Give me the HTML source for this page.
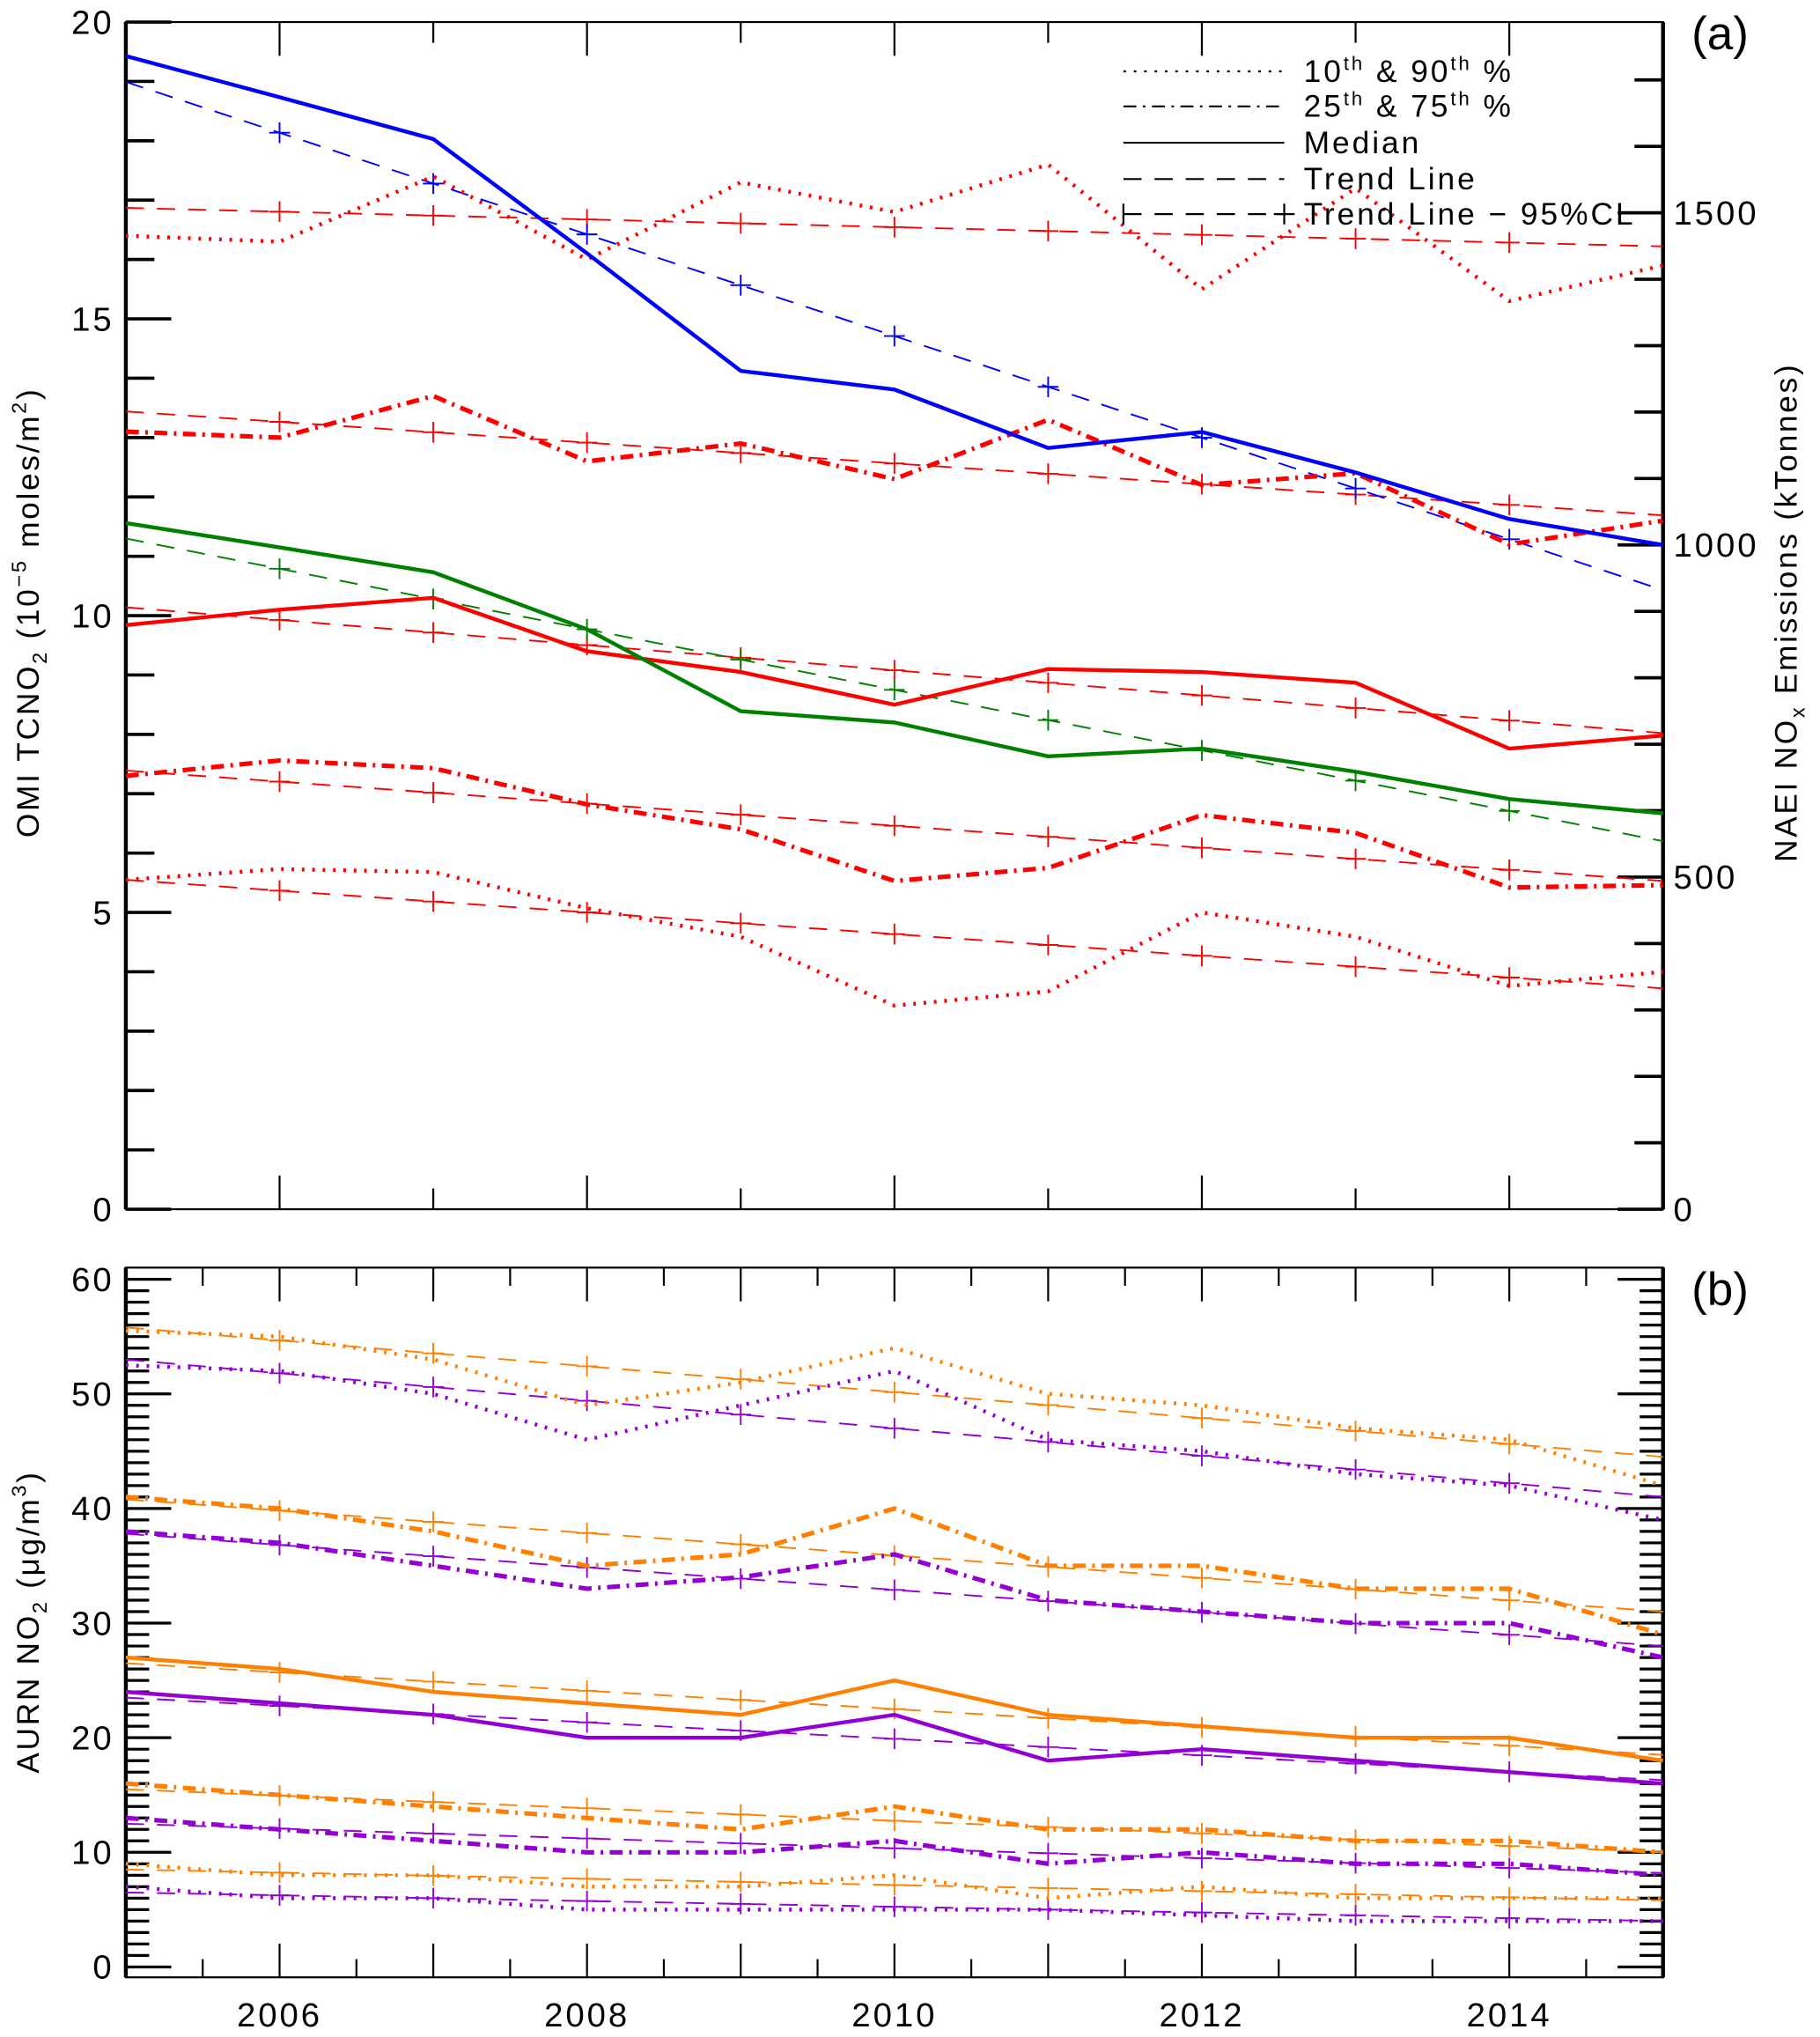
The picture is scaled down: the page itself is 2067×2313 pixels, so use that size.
<!DOCTYPE html>
<html><head><meta charset="utf-8"><style>
html,body{margin:0;padding:0;background:#fff}
svg{display:block}
text{font-family:"Liberation Sans",sans-serif;fill:#000}
</style></head><body>
<svg id="chart" width="2067" height="2313" viewBox="0 0 1403 1570" xmlns="http://www.w3.org/2000/svg"></svg>
<script>
// ---- data ----
const years = [2005,2006,2007,2008,2009,2010,2011,2012,2013,2014,2015];
// panel (a) OMI TCNO2 (1e-5 moles/m2), red
const redP90 = [16.4,16.3,17.4,16.0,17.3,16.8,17.6,15.5,17.2,15.3,15.9];
const redP75 = [13.1,13.0,13.7,12.6,12.9,12.3,13.3,12.2,12.4,11.2,11.6];
const redMed = [9.84,10.1,10.3,9.4,9.05,8.5,9.1,9.05,8.87,7.76,7.98];
const redP25 = [7.3,7.56,7.43,6.82,6.4,5.53,5.75,6.64,6.34,5.42,5.46];
const redP10 = [5.55,5.73,5.68,5.07,4.59,3.43,3.67,5.0,4.59,3.76,4.0];
const redTrendP90 = [16.87,16.22];
const redTrendP75 = [13.44,11.69];
const redTrendMed = [10.14,8.02];
const redTrendP25 = [7.39,5.53];
const redTrendP10 = [5.55,3.72];
// green (left axis)
const greenMed = [11.56,11.15,10.73,9.77,8.39,8.2,7.63,7.76,7.37,6.91,6.67];
const greenTrend = [11.3,6.2];
// blue NAEI emissions (kTonnes, right axis)
const blueEmis = [1736,1674,1611,1439,1262,1234,1146,1170,1109,1039,1000];
const blueTrend = [1697,932];
// panel (b) AURN NO2 (ug/m3)
const orP90 = [55.5,55,53,49,51,54,50,49,47,46,42];
const puP90 = [52.5,52,50,46,49,52,46,45,43,42,39];
const orP75 = [41,40,38,35,36,40,35,35,33,33,29];
const puP75 = [38,37,35,33,34,36,32,31,30,30,27];
const orMed = [27,26,24,23,22,25,22,21,20,20,18];
const puMed = [24,23,22,20,20,22,18,19,18,17,16];
const orP25 = [16,15,14,13,12,14,12,12,11,11,10];
const puP25 = [13,12,11,10,10,11,9,10,9,9,8];
const orP10 = [9,8,8,7,7,8,6,7,6,6,6];
const puP10 = [7,6,6,5,5,5,5,4.5,4,4,4];
const orTrP90=[55.8,44.5], puTrP90=[53,41], orTrP75=[40.8,31], puTrP75=[37.8,28];
const orTrMed=[26.5,18.5], puTrMed=[23.5,16.3], orTrP25=[15.5,10], puTrP25=[12.5,8.2];
const orTrP10=[8.5,5.8], puTrP10=[6.5,4];
const ticksA = [0,5,10,15,20];
const ticksAR = [0,500,1000,1500];
const ticksB = [0,10,20,30,40,50,60];
const xLabels = [2006,2008,2010,2012,2014];

// ---- layout ----
const NS="http://www.w3.org/2000/svg";
const svg=document.getElementById('chart');
const L=97,R=1282;
const x=yr=>L+(yr-2005)*(R-L)/10;
const yA=v=>932-v*45.75;
const yAR=k=>932-k*0.512;
const yB=v=>1516-v*(1516-986)/60;
const RED='#ff0000',BLUE='#0000ff',GREEN='#008000',OR='#ff8000',PU='#9400d3';
const DOT='2,6',DASHDOT='10,5,2,5',DASH='14,10';
function mk(tag,attrs,parent){const e=document.createElementNS(NS,tag);for(const k in attrs)e.setAttribute(k,attrs[k]);(parent||svg).appendChild(e);return e;}
function series(vals,yf,color,dash,w,name){
  const pts=vals.map((v,i)=>x(years[i])+','+yf(v)).join(' ');
  const p=mk('polyline',{points:pts,fill:'none',stroke:color,'stroke-width':w,'stroke-dasharray':dash||'none','stroke-linejoin':'round'});
  
  
}
function trend(ends,yf,color,name){
  const g=mk('g',{});
  
  
  mk('line',{x1:x(2005),y1:yf(ends[0]),x2:x(2015),y2:yf(ends[1]),stroke:color,'stroke-width':1.3,'stroke-dasharray':DASH},g);
  for(let i=1;i<years.length-1;i++){
    const yr=years[i];const v=ends[0]+(ends[1]-ends[0])*i/10;
    const cx=x(yr),cy=yf(v);
    mk('path',{d:`M${cx-8},${cy}H${cx+8}M${cx},${cy-8}V${cy+8}`,stroke:color,'stroke-width':1.3},g);
  }
}
function frame(top,bot,name){
  const r=mk('rect',{x:L,y:top,width:R-L,height:bot-top,fill:'none',stroke:'#000','stroke-width':1.5});
  
  
  mk('line',{x1:L,y1:top,x2:L,y2:bot,stroke:'#000','stroke-width':3});
}
function txt(s,xx,yy,size,anchor,name,extra){
  const t=mk('text',Object.assign({x:xx,y:yy,'font-size':size,'text-anchor':anchor||'middle'},extra||{}));
  t.textContent=s;
  
  
  return t;
}

// ---- panel a ----
frame(17,932,'panel-a-frame');
mk('line',{x1:R,y1:17,x2:R,y2:932,stroke:'#000','stroke-width':3});
for(let v=0;v<=20;v++){const y=yA(v);const big=v%5===0;mk('line',{x1:L,y1:y,x2:L+(big?35:22),y2:y,stroke:'#000','stroke-width':2.5});}
for(let k=0;k<=1700;k+=100){const y=yAR(k);const big=k%500===0;mk('line',{x1:R,y1:y,x2:R-(big?35:22),y2:y,stroke:'#000','stroke-width':2.5});}
for(let yr=2005;yr<=2015;yr++){mk('line',{x1:x(yr),y1:932,x2:x(yr),y2:932-(yr%2===0?26:16),stroke:'#000','stroke-width':1.5});mk('line',{x1:x(yr),y1:17,x2:x(yr),y2:17+(yr%2===0?26:16),stroke:'#000','stroke-width':1.5});}
ticksA.forEach(v=>txt(String(v),88,yA(v)+9,26,'end','y-tick-a-'+v,{'letter-spacing':'2'}));
ticksAR.forEach(k=>txt(String(k),1290,yAR(k)+9,26,'start','y2-tick-a-'+k,{'letter-spacing':'2'}));
txt('(a)',1326,38,36,'middle','panel-a-label');
let t=txt('',30,472,24,'middle','y-axis-title-a',{transform:'rotate(-90 30 472)','letter-spacing':'1.8'});
t.innerHTML='OMI TCNO<tspan font-size="16" dy="6">2</tspan><tspan dy="-6"> (10</tspan><tspan font-size="16" dy="-10">−5</tspan><tspan dy="10"> moles/m</tspan><tspan font-size="16" dy="-10">2</tspan><tspan dy="10">)</tspan>';
t=txt('',1385,472,24,'middle','y2-axis-title-a',{transform:'rotate(-90 1385 472)','letter-spacing':'1.8'});
t.innerHTML='NAEI NO<tspan font-size="16" dy="6">x</tspan><tspan dy="-6"> Emissions (kTonnes)</tspan>';

trend(redTrendP90,yA,RED,'red-p90-trend');
trend(redTrendP75,yA,RED,'red-p75-trend');
trend(redTrendMed,yA,RED,'red-median-trend');
trend(redTrendP25,yA,RED,'red-p25-trend');
trend(redTrendP10,yA,RED,'red-p10-trend');
trend(greenTrend,yA,GREEN,'green-median-trend');
trend(blueTrend,yAR,BLUE,'blue-emissions-trend');
series(redP90,yA,RED,DOT,3,'red-p90-line');
series(redP75,yA,RED,DASHDOT,3.5,'red-p75-line');
series(redMed,yA,RED,null,3,'red-median-line');
series(redP25,yA,RED,DASHDOT,3.5,'red-p25-line');
series(redP10,yA,RED,DOT,3,'red-p10-line');
series(greenMed,yA,GREEN,null,3,'green-median-line');
series(blueEmis,yAR,BLUE,null,3,'blue-emissions-line');

// legend
const leg=mk('g',{});


const legItems=[['DOT','10<tspan font-size="15" dy="-9">th</tspan><tspan dy="9"> &amp; 90</tspan><tspan font-size="15" dy="-9">th</tspan><tspan dy="9"> %</tspan>',DOT,55],
['DD','25<tspan font-size="15" dy="-9">th</tspan><tspan dy="9"> &amp; 75</tspan><tspan font-size="15" dy="-9">th</tspan><tspan dy="9"> %</tspan>',DASHDOT,82],
['S','Median','none',110],['D','Trend Line',DASH,138],['DP','Trend Line − 95%CL',DASH,165]];
legItems.forEach((it,i)=>{
  mk('line',{x1:866,y1:it[3],x2:990,y2:it[3],stroke:'#000','stroke-width':1.5,'stroke-dasharray':it[2]},leg);
  if(it[0]==='DP'){mk('path',{d:`M866,${it[3]-8}V${it[3]+8}M982,${it[3]}H998M990,${it[3]-8}V${it[3]+8}`,stroke:'#000','stroke-width':1.5},leg);}
  const tt=mk('text',{x:1005,y:it[3]+8,'font-size':24,'letter-spacing':'2'},leg);
  tt.innerHTML=it[1];
  
  
});

// ---- panel b ----
frame(977,1524,'panel-b-frame');
mk('line',{x1:R,y1:977,x2:R,y2:1524,stroke:'#000','stroke-width':3});
for(let v=0;v<=60;v++){const y=yB(v);const big=v%10===0;
  mk('line',{x1:L,y1:y,x2:L+(big?35:18),y2:y,stroke:'#000','stroke-width':2.2});
  mk('line',{x1:R,y1:y,x2:R-(big?35:18),y2:y,stroke:'#000','stroke-width':2.2});}
for(let h=0;h<=20;h++){const yr=2005+h/2;const big=h%2===0;
  mk('line',{x1:x(yr),y1:1524,x2:x(yr),y2:1524-(big?26:14),stroke:'#000','stroke-width':1.5});
  mk('line',{x1:x(yr),y1:977,x2:x(yr),y2:977+(big?26:14),stroke:'#000','stroke-width':1.5});}
ticksB.forEach(v=>txt(String(v),88,yB(v)+9,26,'end','y-tick-b-'+v,{'letter-spacing':'2'}));
xLabels.forEach(yr=>txt(String(yr),x(yr),1562,26,'middle','x-tick-'+yr,{'letter-spacing':'2'}));
txt('(b)',1326,1006,36,'middle','panel-b-label');
t=txt('',30,1250,24,'middle','y-axis-title-b',{transform:'rotate(-90 30 1250)','letter-spacing':'1.8'});
t.innerHTML='AURN NO<tspan font-size="16" dy="6">2</tspan><tspan dy="-6"> (μg/m</tspan><tspan font-size="16" dy="-10">3</tspan><tspan dy="10">)</tspan>';

[[orTrP90,OR,'orange-p90-trend'],[puTrP90,PU,'purple-p90-trend'],[orTrP75,OR,'orange-p75-trend'],[puTrP75,PU,'purple-p75-trend'],
 [orTrMed,OR,'orange-median-trend'],[puTrMed,PU,'purple-median-trend'],[orTrP25,OR,'orange-p25-trend'],[puTrP25,PU,'purple-p25-trend'],
 [orTrP10,OR,'orange-p10-trend'],[puTrP10,PU,'purple-p10-trend']].forEach(a=>trend(a[0],yB,a[1],a[2]));
series(orP90,yB,OR,DOT,3,'orange-p90-line');
series(puP90,yB,PU,DOT,3,'purple-p90-line');
series(orP75,yB,OR,DASHDOT,3.5,'orange-p75-line');
series(puP75,yB,PU,DASHDOT,3.5,'purple-p75-line');
series(orMed,yB,OR,null,3,'orange-median-line');
series(puMed,yB,PU,null,3,'purple-median-line');
series(orP25,yB,OR,DASHDOT,3.5,'orange-p25-line');
series(puP25,yB,PU,DASHDOT,3.5,'purple-p25-line');
series(orP10,yB,OR,DOT,3,'orange-p10-line');
series(puP10,yB,PU,DOT,3,'purple-p10-line');
</script>
</body></html>
